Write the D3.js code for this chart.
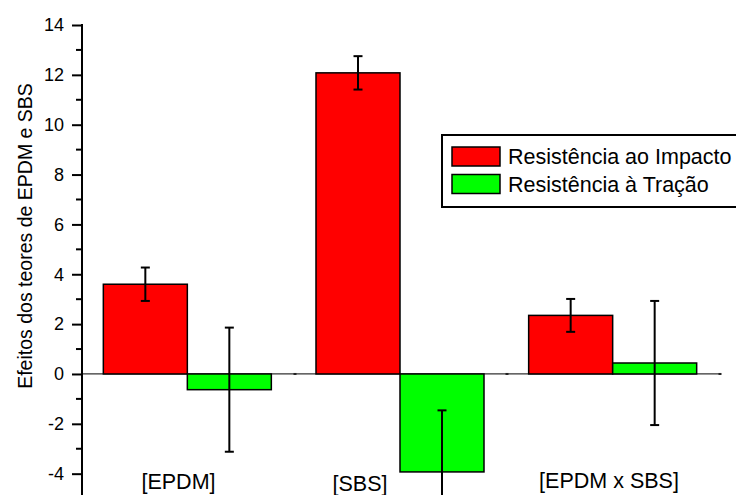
<!DOCTYPE html>
<html>
<head>
<meta charset="utf-8">
<script src="https://cdn.jsdelivr.net/npm/d3@7/dist/d3.min.js"></script>
<style>
  html, body { margin: 0; padding: 0; background: #fff; }
  svg text { font-family: "Liberation Sans", Arial, sans-serif; fill: #000; }
</style>
</head>
<body>
<svg id="chart" width="736" height="495"></svg>
<script>
// Factor effects with standard errors
const categories = ["[EPDM]", "[SBS]", "[EPDM x SBS]"];
const seriesNames = ["Resistência ao Impacto", "Resistência à Tração"];
const impactValues = [3.6, 12.08, 2.35];
const impactErrors = [0.67, 0.67, 0.66];
const tensileValues = [-0.63, -3.93, 0.44];
const tensileErrors = [2.49, 2.47, 2.49];
const yTicks = [-4, -2, 0, 2, 4, 6, 8, 10, 12, 14];
const seriesColors = ["#ff0000", "#00ff00"];
const yTitle = "Efeitos dos teores de EPDM e SBS";

const svg = d3.select("#chart");

const y = d3.scaleLinear().domain([-5, 14]).range([498.6, 25]);
const x0 = d3.scaleBand().domain(categories).range([81, 719])
  .paddingInner(0.21).paddingOuter(0.105);
const x1 = d3.scaleBand().domain([0, 1]).range([0, x0.bandwidth()]);

const data = categories.map((c, i) => ({
  cat: c,
  bars: [
    { s: 0, v: impactValues[i], e: impactErrors[i] },
    { s: 1, v: tensileValues[i], e: tensileErrors[i] }
  ]
}));

// zero baseline
svg.append("line")
  .attr("x1", 82).attr("x2", 721).attr("y1", y(0)).attr("y2", y(0))
  .attr("stroke", "#333").attr("stroke-width", 1.2);
[295, 507, 720].forEach(px => {
  svg.append("rect").attr("x", px - 1.5).attr("y", y(0) - 1).attr("width", 3).attr("height", 2).attr("fill", "#222");
});

// bars
const groups = svg.selectAll("g.grp").data(data).join("g")
  .attr("class", "grp")
  .attr("transform", d => `translate(${x0(d.cat)},0)`);

groups.selectAll("rect.bar").data(d => d.bars).join("rect")
  .attr("class", "bar")
  .attr("x", d => x1(d.s))
  .attr("width", x1.bandwidth())
  .attr("y", d => y(Math.max(0, d.v)))
  .attr("height", d => Math.abs(y(d.v) - y(0)))
  .attr("fill", d => seriesColors[d.s])
  .attr("stroke", "#000").attr("stroke-width", 1.5);

// error bars
const eb = groups.selectAll("g.err").data(d => d.bars).join("g")
  .attr("class", "err")
  .attr("transform", d => `translate(${x1(d.s) + x1.bandwidth() / 2},0)`);
eb.append("line")
  .attr("y1", d => y(d.v + d.e)).attr("y2", d => y(d.v - d.e))
  .attr("stroke", "#000").attr("stroke-width", 2);
eb.append("line")
  .attr("x1", -4.5).attr("x2", 4.5)
  .attr("y1", d => y(d.v + d.e)).attr("y2", d => y(d.v + d.e))
  .attr("stroke", "#000").attr("stroke-width", 2);
eb.append("line")
  .attr("x1", -4.5).attr("x2", 4.5)
  .attr("y1", d => y(d.v - d.e)).attr("y2", d => y(d.v - d.e))
  .attr("stroke", "#000").attr("stroke-width", 2);

// y axis
const yAxis = d3.axisLeft(y).tickValues(yTicks).tickSize(10).tickPadding(8)
  .tickFormat(d => String(d));
const ag = svg.append("g").attr("transform", "translate(82,0)").call(yAxis);
ag.attr("font-size", 18).attr("font-family", "'Liberation Sans', Arial, sans-serif");
ag.select(".domain").remove();
ag.append("line").attr("y1", 24).attr("y2", 495).attr("stroke", "#000").attr("stroke-width", 2);
ag.selectAll(".tick line").attr("stroke", "#000").attr("stroke-width", 2);
ag.selectAll(".tick text").attr("fill", "#000");
const minor = d3.range(-5, 14, 2);
ag.selectAll("line.minor").data(minor).join("line")
  .attr("class", "minor")
  .attr("x1", -6).attr("x2", 0)
  .attr("y1", d => y(d)).attr("y2", d => y(d))
  .attr("stroke", "#000").attr("stroke-width", 2);

// y title
svg.append("text")
  .attr("transform", `translate(32,${(85 + 387) / 2}) rotate(-90)`)
  .attr("text-anchor", "middle")
  .attr("font-size", 19.5)
  .text(yTitle);

// category labels
const labelPos = [[178.5, 489], [360, 491], [609, 488]];
svg.selectAll("text.cat").data(categories).join("text")
  .attr("class", "cat")
  .attr("x", (d, i) => labelPos[i][0])
  .attr("y", (d, i) => labelPos[i][1])
  .attr("text-anchor", "middle")
  .attr("font-size", 21.5)
  .text(d => d);

// legend
const lg = svg.append("g");
lg.append("rect").attr("x", 442).attr("y", 135).attr("width", 310).attr("height", 72)
  .attr("fill", "#fff").attr("stroke", "#000").attr("stroke-width", 2);
seriesNames.forEach((name, i) => {
  lg.append("rect").attr("x", 452).attr("y", 147 + i * 27.5).attr("width", 48).attr("height", 19)
    .attr("fill", seriesColors[i]).attr("stroke", "#000").attr("stroke-width", 1.5);
  lg.append("text").attr("x", 508).attr("y", 164 + i * 27.5)
    .attr("font-size", 21.5).text(name);
});
</script>
</body>
</html>
